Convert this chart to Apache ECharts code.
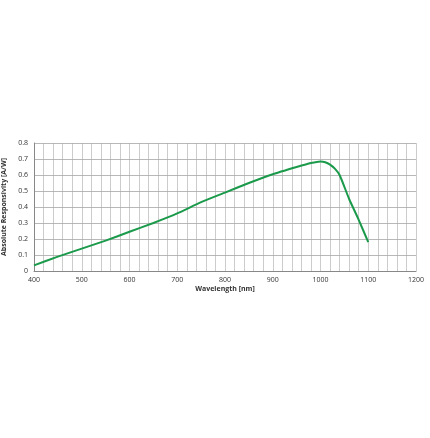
<!DOCTYPE html>
<html><head><meta charset="utf-8">
<script src="https://cdn.jsdelivr.net/npm/echarts@6/dist/echarts.min.js"></script>
<style>html,body{margin:0;background:#fff}#main{width:430px;height:438px}</style>
</head><body><div id="main"></div>
<script>
var wavelength = [400, 450, 500, 550, 600, 650, 700, 750, 800, 850, 900, 950, 980, 1000, 1010, 1020, 1030, 1040, 1060, 1080, 1100];
var response = [0.035, 0.09, 0.14, 0.19, 0.245, 0.30, 0.36, 0.43, 0.49, 0.55, 0.605, 0.65, 0.675, 0.685, 0.68, 0.665, 0.64, 0.60, 0.45, 0.32, 0.18];

var myChart = echarts.init(document.getElementById('main'));
var lbl = { color: '#333', fontSize: 7, fontFamily: 'Open Sans' };
myChart.setOption({
    animation: false,
    grid: { left: 34, right: 14, top: 143, bottom: 167, outerBoundsMode: 'none', containLabel: false },
    xAxis: {
        type: 'value', min: 400, max: 1200, interval: 20,
        name: 'Wavelength [nm]', nameLocation: 'middle', nameGap: 14,
        nameTextStyle: { fontSize: 7, fontWeight: 'bold', color: '#333', fontFamily: 'Open Sans' },
        axisLine: { lineStyle: { color: '#888' } },
        axisTick: { show: false },
        axisLabel: Object.assign({ margin: 5, formatter: function (v) { return v % 100 === 0 ? v : ''; } }, lbl),
        splitLine: { lineStyle: { color: '#aaa', width: 0.6 } }
    },
    yAxis: {
        type: 'value', min: 0, max: 0.8, interval: 0.1,
        name: 'Absolute Responsivity [A/W]', nameLocation: 'middle', nameGap: 22,
        nameTextStyle: { fontSize: 7, fontWeight: 'bold', color: '#333', fontFamily: 'Open Sans' },
        axisLine: { show: true, lineStyle: { color: '#888' } },
        axisTick: { show: false },
        axisLabel: Object.assign({ margin: 6 }, lbl),
        splitLine: { lineStyle: { color: '#888', width: 0.6 } }
    },
    series: [{
        type: 'line', smooth: 0.2, showSymbol: false,
        data: wavelength.map(function (w, i) { return [w, response[i]]; }),
        lineStyle: { color: '#1a9a4a', width: 2 }
    }]
});
</script></body></html>
